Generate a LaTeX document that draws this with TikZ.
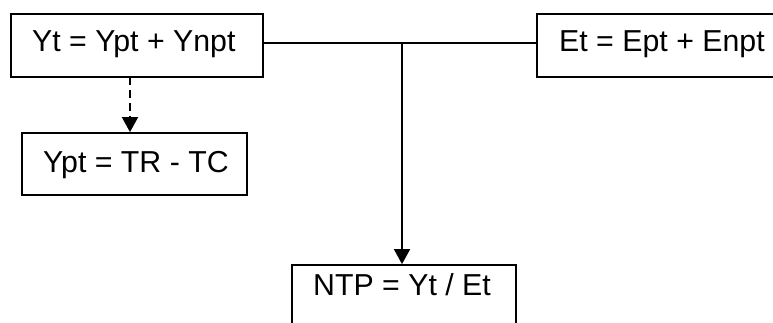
\documentclass[tikz,border=0pt]{standalone}
\usepackage{fontspec}
\setmainfont{Liberation Sans}
\usetikzlibrary{arrows.meta}
\begin{document}
\begin{tikzpicture}[x=1pt,y=-1pt,
  box/.style={draw, line width=1.8pt, inner sep=0pt, rectangle},
  txt/.style={anchor=base west, inner sep=0pt, font=\fontsize{30.3}{32}\selectfont},
  conn/.style={line width=1.8pt},
  tip/.style={-{Triangle[width=16pt,length=15pt]}}]
\useasboundingbox (0,0) rectangle (773,322);
\fill[white] (0,0) rectangle (773,322);
\node[box, minimum width=252pt, minimum height=63pt] (yt) at (137,45.5) {};
\node[box, minimum width=263pt, minimum height=63pt] (et) at (668.5,45.5) {};
\node[box, minimum width=225pt, minimum height=62pt] (ypt) at (134.5,164) {};
\node[box, minimum width=224pt, minimum height=75pt] (ntp) at (404,302.5) {};
\node[txt] (tyt) at (32,51) {Yt = Ypt + Ynpt};
\node[txt] (tet) at (559,51) {Et = Ept + Enpt};
\node[txt] (typt) at (43,172) {Ypt = TR - TC};
\node[txt] (tntp) at (313,295) {NTP = Yt / Et};
\coordinate (J) at (402,43);
\coordinate (da) at (130,77);
\draw[conn] (yt.east |- J) -- (et.west |- J);
\draw[conn, tip] (J) -- (J |- ntp.north);
\draw[conn, tip, dash pattern=on 8pt off 5pt] (da) -- (da |- ypt.north);
\end{tikzpicture}
\end{document}
